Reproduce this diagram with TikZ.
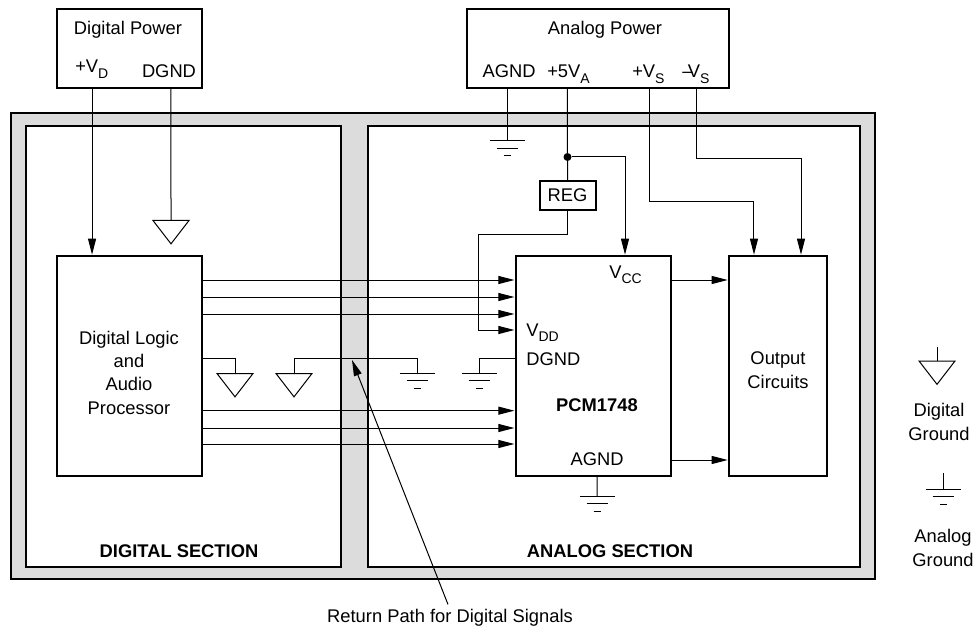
\documentclass[tikz,border=0pt]{standalone}
\usepackage{fontspec}
\setmainfont{Liberation Sans}
\usetikzlibrary{shapes.geometric, arrows.meta, positioning, calc}
\definecolor{pathgray}{RGB}{220, 220, 220}
\newcommand{\subtxt}[1]{\raisebox{-0.55ex}{\fontsize{10.5}{10.5}\selectfont #1}}
\newcommand{\aground}[1]{%
    \draw[wire] (#1) ++(-17.5,0) -- ++(35,0);
    \draw[wire] (#1) ++(-10.5,7.5) -- ++(21,0);
    \draw[wire] (#1) ++(-3.5,15) -- ++(7,0);
}

\begin{document}
\begin{tikzpicture}[
                x=0.75pt, y=-0.75pt,
                every node/.style={font=\fontsize{13.75}{17.5}\selectfont},
                box/.style={rectangle, draw=black, line width=1.5pt, fill=white, outer sep=0pt, inner sep=0pt},
                wire/.style={line width=0.75pt, draw=black},
                arrow/.style={wire, -{Triangle[length=12pt, width=6pt]}, shorten >=1pt},
                lbl/.style={anchor=base, inner sep=0pt, align=center},
                pin/.style={anchor=base west, inner sep=0pt},
                title/.style={lbl, font=\fontsize{13.75}{17.5}\selectfont\bfseries},
                dground/.style={isosceles triangle, isosceles triangle apex angle=76, isosceles triangle stretches, shape border rotate=-90, draw=black, line width=0.75pt, minimum width=27pt, minimum height=17.5pt, inner sep=0pt, outer sep=0pt, anchor=lower side},
                junction/.style={circle, fill=black, minimum size=6pt, inner sep=0pt}
            ]%
            \useasboundingbox (0,0) rectangle (977,627);
            %
            % Fondo y secciones
            \node[box, fill=pathgray, minimum width=648pt, minimum height=349.5pt] (board) at (443,346) {};
            \node[box, minimum width=236.25pt, minimum height=330.75pt] (digsec) at (183.5,346.5) {};
            \node[box, minimum width=369pt, minimum height=330.75pt] (anasec) at (614,346.5) {};
            \node[title] (digtitle) at (179,557) {DIGITAL SECTION};
            \node[title] (anatitle) at (610,557) {ANALOG SECTION};
            %
            % Fuentes
            \node[box, minimum width=108.4pt, minimum height=59.25pt] (digital) at (129.25,48.5) {};
            \node[box, minimum width=196.5pt, minimum height=59.25pt] (analog) at (598,48.5) {};
            \node[lbl] (digname) at (128,35) {Digital Power};
            \node[lbl] (ananame) at (605,35) {Analog Power};
            \node[pin] (vd) at (75,73) {+V\subtxt{D}};
            \node[lbl] (dgnd) at (169,78) {DGND};
            \node[lbl] (agnd) at (509,78) {AGND};
            \node[pin] (vfive) at (547,78) {+5V\subtxt{A}};
            \node[pin] (vsp) at (632,78) {+V\subtxt{S}};
            \node[pin] (vsn) at (682,78) {--\kern-3.5pt V\subtxt{S}};
            %
            % Bloques
            \node[box, minimum width=108.4pt, minimum height=165pt] (logic) at (129.25,366) {};
            \node[lbl] (logictxt) at (129,414) {Digital Logic\\and\\Audio\\Processor};
            \node[box, minimum width=116.5pt, minimum height=165pt] (pcm) at (593.35,366) {};
            \node[pin] (vcc) at (609,278) {V\subtxt{CC}};
            \node[pin] (vdd) at (526,336) {V\subtxt{DD}};
            \node[pin] (pcmdgnd) at (526,365) {DGND};
            \node[title] (pcmname) at (597,411) {PCM1748};
            \node[lbl] (pcmagnd) at (597,465) {AGND};
            \node[box, minimum width=73.3pt, minimum height=165pt] (out) at (777.85,366) {};
            \node[lbl] (outtxt) at (778,388) {Output\\Circuits};
            \node[box, minimum width=42pt, minimum height=21.75pt] (reg) at (567.5,195.5) {REG};
            \node[junction] (j5v) at (567.5,157) {};
            %
            % Tierras
            \node[dground] (dg1) at (171,220.5) {};
            \node[dground] (dg2) at (235,373.5) {};
            \node[dground] (dg3) at (294,373.5) {};
            \coordinate (ag1) at (507,141);
            \coordinate (ag2) at (417,373);
            \coordinate (ag3) at (479,373);
            \coordinate (ag4) at (597,496);
            \aground{ag1}
            \aground{ag2}
            \aground{ag3}
            \aground{ag4}
            %
            % Conexiones de alimentacion
            \draw[arrow] ([xshift=-27.9pt]digital.south) -- ([xshift=-27.9pt]logic.north);
            \draw[wire] ([xshift=31.3pt]digital.south) -- (dg1.lower side);
            \draw[wire] ([xshift=-68.25pt]analog.south) -- (ag1);
            \draw[wire] ([xshift=-22.9pt]analog.south) -- (reg.north);
            \draw[arrow] (j5v) -| ([xshift=23.74pt]pcm.north);
            \draw[arrow] ([xshift=38.25pt]analog.south) -- ++(0,113.5) -| ([xshift=-17.9pt]out.north);
            \draw[arrow] ([xshift=73.5pt]analog.south) -- ++(0,70.5) -| ([xshift=17.36pt]out.north);
            \draw[arrow] (reg.south) -- ++(0,25) -- ++(-89.5,0) |- ([yshift=27pt]pcm.west);
            %
            % Bus digital
            \draw[arrow] ([yshift=64.5pt]logic.east) -- ([yshift=64.5pt]pcm.west);
            \draw[arrow] ([yshift=51.75pt]logic.east) -- ([yshift=51.75pt]pcm.west);
            \draw[arrow] ([yshift=39pt]logic.east) -- ([yshift=39pt]pcm.west);
            \draw[arrow] ([yshift=-33.5pt]logic.east) -- ([yshift=-33.5pt]pcm.west);
            \draw[arrow] ([yshift=-46.5pt]logic.east) -- ([yshift=-46.5pt]pcm.west);
            \draw[arrow] ([yshift=-58.5pt]logic.east) -- ([yshift=-58.5pt]pcm.west);
            %
            % Salidas
            \draw[arrow] ([yshift=64.5pt]pcm.east) -- ([yshift=64.5pt]out.west);
            \draw[arrow] ([yshift=-70.5pt]pcm.east) -- ([yshift=-70.5pt]out.west);
            %
            % Retornos de tierra
            \draw[wire] ([yshift=6pt]logic.east) -| (dg2.lower side);
            \draw[wire] (dg3.lower side) -- ++(0,-15.5) -| (ag2);
            \draw[wire] ([yshift=6pt]pcm.west) -| (ag3);
            \draw[wire] ([xshift=2.74pt]pcm.south) -- (ag4);
            %
            % Camino de retorno
            \node[lbl] (retlbl) at (450,622) {Return Path for Digital Signals};
            \coordinate (retpath) at (352,360);
            \draw[arrow, shorten >=0pt] ([xshift=-1.5pt, yshift=3pt]retlbl.north) -- (retpath);
            %
            % Leyenda
            \coordinate (dgstem) at (937,347);
            \node[dground] (dgkey) at (937,361) {};
            \draw[wire] (dgstem) -- (dgkey.lower side);
            \node[lbl] (dgtxt) at (939,440) {Digital\\Ground};
            \coordinate (agstem) at (943,473);
            \coordinate (agkey) at (943,489);
            \draw[wire] (agstem) -- (agkey);
            \aground{agkey}
            \node[lbl] (agtxt) at (943,566) {Analog\\Ground};
        \end{tikzpicture}
\end{document}
